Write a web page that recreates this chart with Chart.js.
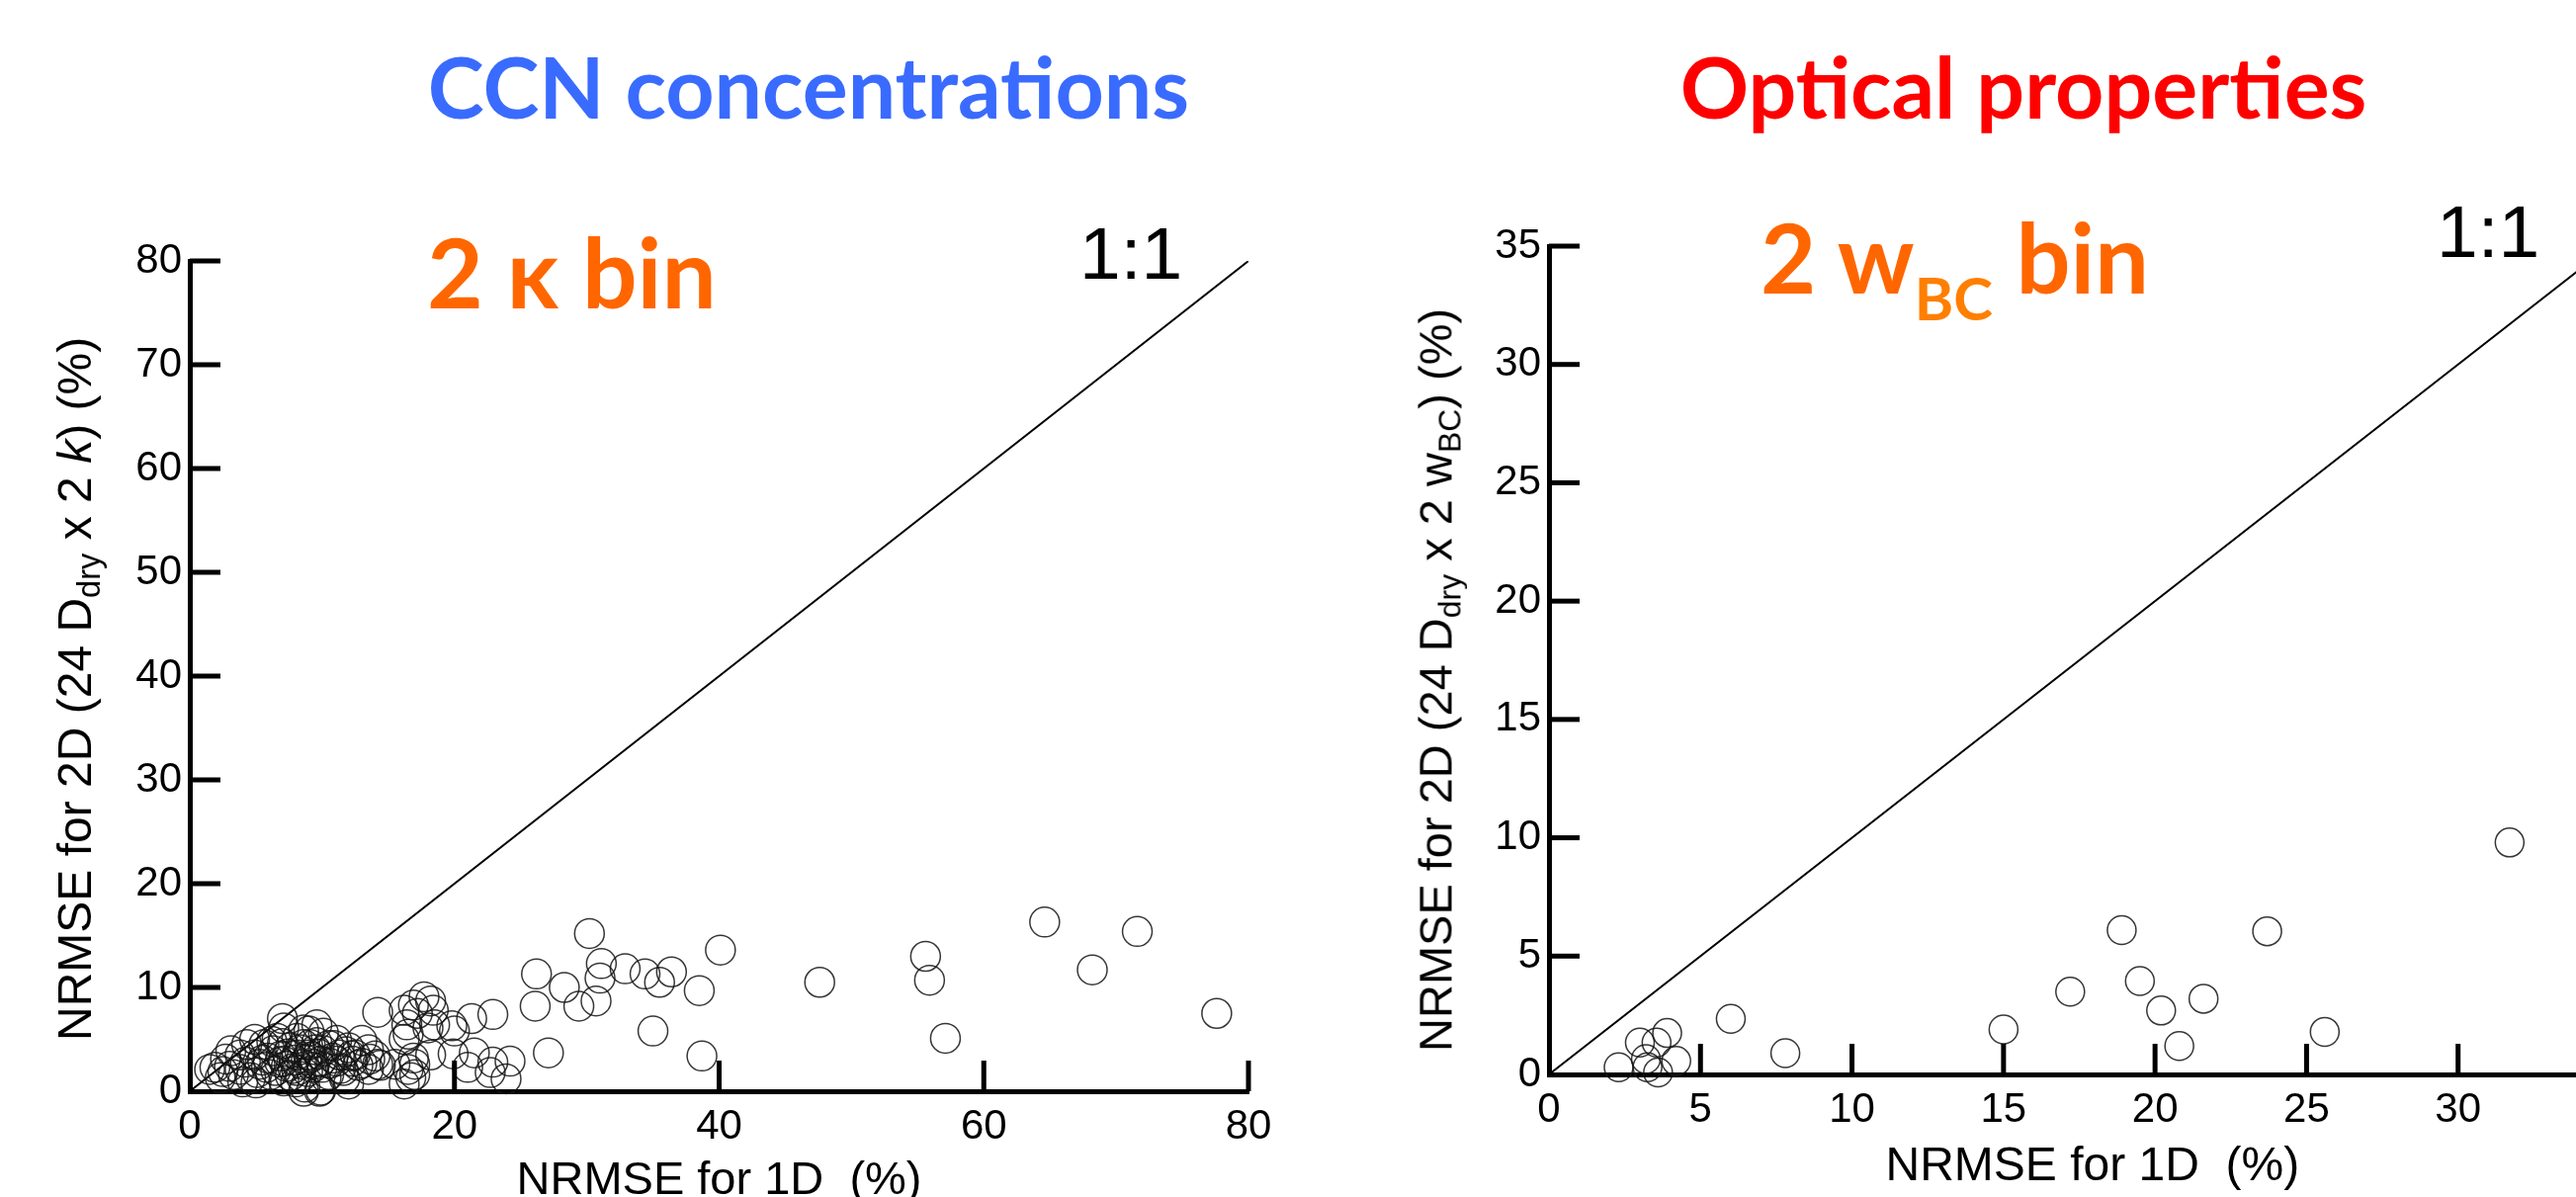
<!DOCTYPE html>
<html lang="en">
<head>
    <meta charset="UTF-8">
    <title>NRMSE 1D vs 2D</title>
    <script src="https://cdn.jsdelivr.net/npm/chart.js"></script>
    <style>
        html, body {
            margin: 0;
            padding: 0;
            width: 2606px;
            height: 1211px;
            overflow: hidden;
            background: #fff;
        }
        .box {
            position: absolute;
            top: 0;
        }
        .label {
            position: absolute;
            white-space: nowrap;
            line-height: 1;
        }
        .big {
            font-family: Lato, 'Open Sans', sans-serif;
            font-weight: 700;
        }
        .ytitle {
            font-family: 'Liberation Sans', Arial, sans-serif;
            color: #000;
            transform: translate(-50%, -50%) rotate(-90deg);
        }
        .ytitle .sub {
            font-size: 0.68em;
            position: relative;
            top: 0.27em;
        }
        .ratio {
            font-family: 'Liberation Sans', Arial, sans-serif;
            font-size: 75px;
            color: #000;
        }
    </style>
</head>
<body>
    <div class="box" style="left:0; width:1300px; height:1240px;">
        <canvas id="ccnChart"></canvas>
    </div>
    <div class="box" style="left:1306px; width:1400px; height:1211px;">
        <canvas id="optChart"></canvas>
    </div>

    <div class="label big" style="font-size:86px; color:#3a6bff; left:818px; top:44px; transform:translateX(-50%);">CCN concentrations</div>
    <div class="label big" style="font-size:86px; color:#ff0000; left:2047px; top:44px; transform:translateX(-50%);">Optical properties</div>

    <div class="label big" style="font-size:98px; color:#ff6600; left:432px; top:225px;">2 κ bin</div>
    <div class="label big" style="font-size:97px; color:#ff6600; left:1781px; top:211px;">2 w<span style="font-size:60px; color:#ff7f00; position:relative; top:27px;">BC</span> bin</div>

    <div class="label ratio" style="left:1092px; top:219px;">1:1</div>
    <div class="label ratio" style="left:2465px; top:197px;">1:1</div>

    <div class="label ytitle" style="font-size:48px; left:76px; top:697px;">NRMSE for 2D (24 D<span class="sub">dry</span> x 2 <i>k</i>) (%)</div>
    <div class="label ytitle" style="font-size:47px; left:1452px; top:688px;">NRMSE for 2D (24 D<span class="sub">dry</span> x 2 w<span class="sub">BC</span>) (%)</div>

    <script>
        // CCN concentrations: NRMSE 1D (x) vs 2D (y), in %
        const ccnNrmse1D = [
            64.6, 71.6, 68.2, 77.6, 55.6, 55.9, 57.1, 47.6, 40.1, 30.2,
            38.5, 38.7, 35.0, 36.4, 35.5, 34.4, 32.9, 31.1, 31.0, 30.7,
            29.4, 28.3, 26.2, 26.1, 27.1, 22.9, 21.3, 19.8, 19.9, 21.5,
            21.0, 22.9, 24.2, 23.9, 22.7, 18.2, 18.5, 17.7, 18.2, 18.4,
            16.9, 16.2, 17.2, 14.2, 16.4, 16.2, 16.9, 16.5, 16.7, 16.2,
            17.0, 15.5, 17.0, 16.5, 18.0, 20.0, 14.2, 13.5, 12.2, 12.0,
            9.9, 8.7, 7.0,
            1.5, 1.9, 2.3, 2.7, 3.1, 3.3, 3.8, 3.8, 4.3, 4.6,
            4.9, 4.9, 5.3, 5.6, 5.8, 6.1, 6.3, 6.6, 6.8, 7.1,
            7.1, 7.1, 7.4, 7.6, 7.8, 8.1, 8.1, 8.1, 8.4, 8.6,
            8.6, 8.6, 8.8, 9.0, 9.0, 9.3, 9.5, 9.6, 9.6, 9.8,
            9.9, 10.1, 10.1, 10.3, 10.5, 10.5, 10.8, 11.1, 11.1, 11.4,
            11.6, 11.8, 12.0, 12.5, 12.7, 13.0, 13.0, 13.5, 14.0, 14.4,
            5.1, 5.9, 6.5, 7.0, 7.3, 7.9, 8.3, 8.5, 8.9, 9.2,
            9.4, 9.7, 10.0, 10.6, 11.3, 7.6, 6.9, 4.2, 3.0, 2.5,
            5.5, 10.9, 12.3, 13.6, 6.2, 5.0, 11.7, 9.1, 8.0, 4.0
        ];
        const ccnNrmse2D = [
            16.3, 15.4, 11.7, 7.5, 13.0, 10.7, 5.1, 10.5, 13.6, 15.2,
            9.7, 3.4, 5.8, 11.5, 10.5, 11.3, 11.8, 12.3, 10.9, 8.7,
            8.2, 10.0, 11.3, 8.2, 3.7, 7.4, 7.0, 6.3, 3.6, 3.7,
            2.3, 2.8, 2.9, 1.2, 1.8, 3.5, 6.4, 9.1, 8.7, 7.8,
            8.3, 7.8, 7.5, 7.6, 6.4, 5.0, 3.2, 2.1, 1.3, 0.7,
            1.6, 2.6, 2.6, 5.5, 6.1, 5.8, 2.6, 2.1, 3.4, 0.7,
            0.1, 0.4, 7.0,
            2.1, 2.3, 1.3, 3.1, 3.9, 1.6, 2.1, 3.5, 4.5, 1.3,
            5.0, 3.5, 2.6, 4.5, 2.3, 1.6, 3.9, 5.1, 2.8, 1.0,
            2.9, 6.1, 3.6, 4.2, 2.2, 2.0, 3.5, 5.1, 1.4, 4.5,
            5.9, 0.0, 3.0, 3.5, 5.8, 2.3, 4.0, 4.7, 6.4, 0.0,
            2.9, 3.9, 5.6, 1.3, 1.6, 4.4, 3.2, 2.9, 4.9, 2.2,
            2.0, 3.8, 4.2, 3.5, 2.5, 2.7, 4.9, 4.0, 3.4, 2.5,
            1.8, 3.2, 2.0, 4.6, 2.4, 3.0, 4.0, 2.6, 1.9, 3.3,
            2.6, 3.6, 2.3, 2.7, 3.5, 1.5, 3.4, 2.8, 2.4, 1.9,
            3.0, 4.4, 2.9, 3.1, 4.8, 0.8, 1.2, 4.5, 0.9, 0.9
        ];

        // Optical properties: NRMSE 1D (x) vs 2D (y), in %
        const optNrmse1D = [2.3, 3.0, 3.55, 3.9, 3.2, 3.25, 3.6, 4.2, 6.0, 7.8,
                            15.0, 17.2, 18.9, 19.5, 20.2, 20.8, 21.6, 23.7, 25.6, 31.7];
        const optNrmse2D = [0.3, 1.35, 1.35, 1.75, 0.65, 0.3, 0.08, 0.57, 2.35, 0.9,
                            1.9, 3.5, 6.1, 3.95, 2.7, 1.2, 3.2, 6.05, 1.8, 9.8];

        // tick labels
        const ccnTicksX = [0, 20, 40, 60, 80];
        const ccnTicksY = [0, 10, 20, 30, 40, 50, 60, 70, 80];
        const optTicks = [0, 5, 10, 15, 20, 25, 30, 35];

        // 1:1 reference lines (end points)
        const ccnOneToOne = [0, 80];
        const optOneToOne = [0, 35];

        const xTitle = 'NRMSE for 1D  (%)';

        // ticks pointing into the plot, like the original figure
        const inwardTicks = {
            id: 'inwardTicks',
            afterDatasetsDraw(chart, args, opts) {
                const { ctx, chartArea, scales } = chart;
                ctx.save();
                ctx.strokeStyle = '#000';
                ctx.lineWidth = opts.width;
                ctx.lineCap = 'butt';
                scales.x.ticks.forEach(t => {
                    if (t.value === scales.x.min) return;
                    const px = scales.x.getPixelForValue(t.value);
                    ctx.beginPath();
                    ctx.moveTo(px, chartArea.bottom);
                    ctx.lineTo(px, chartArea.bottom - opts.length);
                    ctx.stroke();
                });
                scales.y.ticks.forEach(t => {
                    if (t.value === scales.y.min) return;
                    const py = scales.y.getPixelForValue(t.value);
                    ctx.beginPath();
                    ctx.moveTo(chartArea.left, py);
                    ctx.lineTo(chartArea.left + opts.length, py);
                    ctx.stroke();
                });
                ctx.restore();
            }
        };

        function toPoints(xs, ys) {
            return xs.map((x, i) => ({ x: x, y: ys[i] }));
        }

        function makeChart(id, cfg) {
            const ctx = document.getElementById(id).getContext('2d');
            const tickFont = { family: "'Liberation Sans', Arial, sans-serif", size: 42 };
            return new Chart(ctx, {
                type: 'scatter',
                data: {
                    datasets: [{
                        data: toPoints(cfg.xs, cfg.ys),
                        pointRadius: cfg.radius,
                        pointBorderWidth: 1.5,
                        borderColor: 'rgba(20, 20, 20, 0.85)',
                        backgroundColor: 'rgba(0, 0, 0, 0)',
                        pointHoverRadius: cfg.radius,
                        clip: false
                    }, {
                        data: toPoints(cfg.line, cfg.line),
                        showLine: true,
                        pointRadius: 0,
                        borderWidth: 2,
                        borderColor: '#000'
                    }]
                },
                options: {
                    responsive: true,
                    maintainAspectRatio: false,
                    animation: false,
                    layout: { padding: cfg.padding },
                    plugins: {
                        legend: { display: false },
                        tooltip: { enabled: false },
                        inwardTicks: { width: 5, length: 31 }
                    },
                    scales: {
                        x: {
                            type: 'linear',
                            min: cfg.ticksX[0],
                            max: cfg.ticksX[cfg.ticksX.length - 1],
                            afterBuildTicks: s => { s.ticks = cfg.ticksX.map(v => ({ value: v })); },
                            afterFit: s => { s.height = cfg.xHeight; },
                            grid: { display: false, drawTicks: false },
                            border: { display: true, color: '#000', width: 5 },
                            ticks: { color: '#000', font: tickFont, padding: 11, maxRotation: 0 },
                            title: {
                                display: true,
                                text: cfg.xTitle,
                                color: '#000',
                                font: { family: "'Liberation Sans', Arial, sans-serif", size: cfg.titleSize },
                                padding: { top: 0, bottom: cfg.titlePad }
                            }
                        },
                        y: {
                            type: 'linear',
                            min: cfg.ticksY[0],
                            max: cfg.ticksY[cfg.ticksY.length - 1],
                            afterBuildTicks: s => { s.ticks = cfg.ticksY.map(v => ({ value: v })); },
                            afterFit: s => { s.width = cfg.yWidth; },
                            grid: { display: false, drawTicks: false },
                            border: { display: true, color: '#000', width: 5 },
                            ticks: { color: '#000', font: tickFont, padding: 8 }
                        }
                    }
                },
                plugins: [inwardTicks]
            });
        }

        makeChart('ccnChart', {
            xs: ccnNrmse1D, ys: ccnNrmse2D, line: ccnOneToOne,
            ticksX: ccnTicksX, ticksY: ccnTicksY,
            radius: 15,
            padding: { top: 264, right: 37, left: 0, bottom: 0 },
            yWidth: 192, xHeight: 136,
            xTitle: xTitle, titleSize: 47, titlePad: 17
        });

        makeChart('optChart', {
            xs: optNrmse1D, ys: optNrmse2D, line: optOneToOne,
            ticksX: optTicks, ticksY: optTicks,
            radius: 14.5,
            padding: { top: 249, right: 66, left: 0, bottom: 0 },
            yWidth: 261, xHeight: 124,
            // two leading spaces nudge the centred title right, as in the original
            xTitle: '  ' + xTitle, titleSize: 48, titlePad: 1
        });
    </script>
</body>
</html>
